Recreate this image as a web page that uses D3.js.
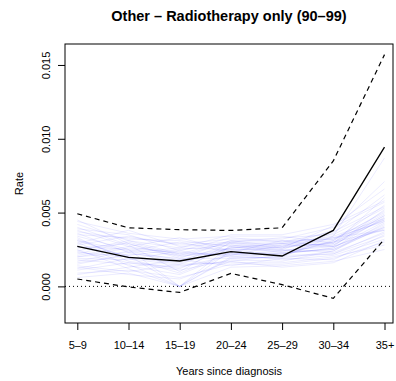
<!DOCTYPE html>
<html>
<head>
<meta charset="utf-8">
<script src="https://cdn.jsdelivr.net/npm/d3@7"></script>
<style>
  body { margin: 0; background: #fff; }
  svg text { font-family: "Liberation Sans", Arial, Helvetica, sans-serif; fill: #000; }
</style>
</head>
<body>
<div id="chart"></div>
<script>
// categories on the x axis
const periods = ["5\u20139", "10\u201314", "15\u201319", "20\u201324", "25\u201329", "30\u201334", "35+"];

// observed rate and its pointwise bounds
const rate  = [0.00271, 0.00196, 0.00172, 0.00235, 0.00206, 0.00379, 0.00943];
const upper = [0.00492, 0.00397, 0.00384, 0.00379, 0.00397, 0.00850, 0.01570];
const lower = [0.00050, -0.00004, -0.00041, 0.00088, 0.00012, -0.00081, 0.00321];

// simulated rates (faint blue lines)
const sims = [
  [0.0031, 0.0024, 0.0018, 0.0026, 0.0026, 0.0030, 0.0045],
  [0.0022, 0.0030, 0.0021, 0.0022, 0.0024, 0.0027, 0.0052],
  [0.0040, 0.0028, 0.0010, 0.0030, 0.0030, 0.0033, 0.0038],
  [0.0018, 0.0015, 0.0000, 0.0020, 0.0019, 0.0024, 0.0041],
  [0.0027, 0.0021, 0.0025, 0.0028, 0.0025, 0.0036, 0.0062],
  [0.0012, 0.0019, 0.0014, 0.0017, 0.0021, 0.0022, 0.0034],
  [0.0035, 0.0033, 0.0029, 0.0032, 0.0032, 0.0040, 0.0057],
  [0.0009, 0.0011, 0.0006, 0.0015, 0.0015, 0.0019, 0.0030],
  [0.0044, 0.0036, 0.0032, 0.0034, 0.0034, 0.0029, 0.0048],
  [0.0025, 0.0012, 0.0000, 0.0024, 0.0022, 0.0026, 0.0044],
  [0.0020, 0.0026, 0.0023, 0.0021, 0.0028, 0.0031, 0.0055],
  [0.0033, 0.0017, 0.0012, 0.0027, 0.0023, 0.0025, 0.0040],
  [0.0015, 0.0022, 0.0019, 0.0019, 0.0020, 0.0034, 0.0087],
  [0.0029, 0.0038, 0.0027, 0.0029, 0.0029, 0.0028, 0.0046],
  [0.0006, 0.0009, 0.0000, 0.0013, 0.0014, 0.0017, 0.0025],
  [0.0038, 0.0027, 0.0022, 0.0031, 0.0027, 0.0038, 0.0071],
  [0.0023, 0.0020, 0.0016, 0.0025, 0.0025, 0.0023, 0.0036],
  [0.0017, 0.0024, 0.0030, 0.0023, 0.0031, 0.0032, 0.0050],
  [0.0030, 0.0014, 0.0008, 0.0022, 0.0018, 0.0021, 0.0032],
  [0.0042, 0.0031, 0.0026, 0.0035, 0.0035, 0.0042, 0.0058],
  [0.0011, 0.0016, 0.0011, 0.0018, 0.0017, 0.0024, 0.0043],
  [0.0026, 0.0029, 0.0020, 0.0026, 0.0028, 0.0027, 0.0039],
  [0.0034, 0.0025, 0.0000, 0.0028, 0.0024, 0.0030, 0.0049],
  [0.0019, 0.0018, 0.0024, 0.0020, 0.0022, 0.0026, 0.0047],
  [0.0028, 0.0034, 0.0028, 0.0030, 0.0033, 0.0035, 0.0053],
  [0.0014, 0.0010, 0.0015, 0.0016, 0.0016, 0.0020, 0.0028],
  [0.0036, 0.0023, 0.0017, 0.0029, 0.0026, 0.0033, 0.0044],
  [0.0021, 0.0027, 0.0033, 0.0024, 0.0027, 0.0029, 0.0060],
  [0.0032, 0.0019, 0.0009, 0.0023, 0.0021, 0.0031, 0.0051],
  [0.0008, 0.0013, 0.0018, 0.0014, 0.0019, 0.0018, 0.0035],
  [0.0039, 0.0035, 0.0024, 0.0033, 0.0030, 0.0037, 0.0054],
  [0.0024, 0.0016, 0.0013, 0.0021, 0.0023, 0.0025, 0.0042],
  [0.0016, 0.0021, 0.0000, 0.0019, 0.0020, 0.0022, 0.0037],
  [0.0037, 0.0032, 0.0031, 0.0027, 0.0029, 0.0034, 0.0046],
  [0.0027, 0.0025, 0.0021, 0.0030, 0.0026, 0.0041, 0.0066],
  [0.0013, 0.0008, 0.0005, 0.0017, 0.0013, 0.0016, 0.0031],
  [0.0045, 0.0029, 0.0019, 0.0031, 0.0031, 0.0027, 0.0040],
  [0.0020, 0.0023, 0.0026, 0.0025, 0.0024, 0.0028, 0.0048],
  [0.0031, 0.0020, 0.0015, 0.0026, 0.0029, 0.0032, 0.0045],
  [0.0024, 0.0031, 0.0022, 0.0022, 0.0022, 0.0030, 0.0038]
];

const yTicks = [0, 0.005, 0.010, 0.015];

const titleText = "Other \u2013 Radiotherapy only (90\u201399)";
const xLabelText = "Years since diagnosis";
const yLabelText = "Rate";

let margin = { top: 44, left: 65, right: 3, bottom: 58 },
    width = 396 - margin.left - margin.right,
    height = 381 - margin.top - margin.bottom;

const svg = d3.select("#chart")
  .append("svg")
  .attr("width", width + margin.left + margin.right)
  .attr("height", height + margin.top + margin.bottom);

const g = svg.append("g")
  .attr("transform", "translate(" + margin.left + "," + margin.top + ")");

// scales
const xScale = d3.scalePoint().domain(periods).range([12.3, 319.5]);
const yScale = d3.scaleLinear().domain([-0.00248, 0.01642]).range([height, 0]);

const line = d3.line()
  .x((d, i) => xScale(periods[i]))
  .y((d) => yScale(d));

// simulated lines
g.append("g")
  .selectAll("path")
  .data(sims)
  .enter()
  .append("path")
  .attr("fill", "none")
  .attr("stroke", "#0000ff")
  .attr("stroke-opacity", 0.08)
  .attr("stroke-width", 1)
  .attr("d", line);

// zero reference line
g.append("line")
  .attr("x1", 0).attr("x2", width)
  .attr("y1", yScale(0)).attr("y2", yScale(0))
  .attr("stroke", "#000")
  .attr("stroke-width", 1)
  .attr("stroke-dasharray", "1,3");

// bounds
[upper, lower].forEach((b) => {
  g.append("path")
    .attr("fill", "none")
    .attr("stroke", "#000")
    .attr("stroke-width", 1.2)
    .attr("stroke-dasharray", "5,4")
    .attr("d", line(b));
});

// observed rate
g.append("path")
  .attr("fill", "none")
  .attr("stroke", "#000")
  .attr("stroke-width", 1.3)
  .attr("d", line(rate));

// box
g.append("rect")
  .attr("x", 0).attr("y", 0)
  .attr("width", width).attr("height", height)
  .attr("fill", "none")
  .attr("stroke", "#000")
  .attr("stroke-width", 1);

// x axis
const xAxis = g.append("g")
  .attr("transform", "translate(0," + height + ")")
  .call(d3.axisBottom(xScale).tickSize(7).tickPadding(11));
xAxis.select(".domain").remove();
xAxis.selectAll("text").style("font-size", "11px");

// y axis, labels rotated like base R
const yAxis = g.append("g")
  .call(d3.axisLeft(yScale).tickValues(yTicks).tickSize(7).tickFormat(d3.format(".3f")));
yAxis.select(".domain").remove();
yAxis.selectAll("text")
  .style("font-size", "11px")
  .attr("x", null).attr("dy", null)
  .attr("text-anchor", "middle")
  .attr("transform", "translate(-15,0) rotate(-90)");

// title and axis labels
svg.append("text")
  .attr("x", margin.left + width / 2)
  .attr("y", 21)
  .attr("text-anchor", "middle")
  .style("font-size", "14.5px")
  .style("font-weight", "bold")
  .text(titleText);

svg.append("text")
  .attr("x", margin.left + width / 2)
  .attr("y", 375)
  .attr("text-anchor", "middle")
  .style("font-size", "11px")
  .text(xLabelText);

svg.append("text")
  .attr("transform", "translate(23," + (margin.top + height / 2) + ") rotate(-90)")
  .attr("text-anchor", "middle")
  .style("font-size", "11px")
  .text(yLabelText);
</script>
</body>
</html>
